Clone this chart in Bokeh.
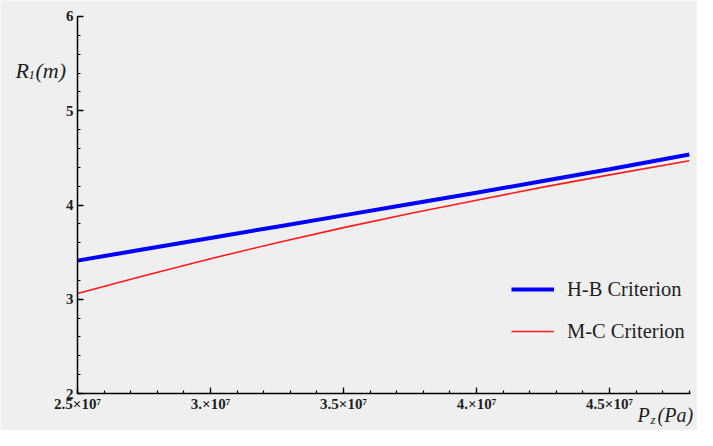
from bokeh.plotting import figure
from bokeh.models import FixedTicker, Label, Legend, LegendItem, Range1d
from bokeh.embed import file_html
from bokeh.resources import INLINE

# Data
pz = [2.5e7, 2.75e7, 3.0e7, 3.25e7, 3.5e7, 3.75e7, 4.0e7, 4.25e7, 4.5e7, 4.8e7]
hb = [3.41, 3.53, 3.65, 3.77, 3.89, 4.01, 4.13, 4.255, 4.38, 4.535]
mc = [3.06, 3.25, 3.43, 3.60, 3.76, 3.91, 4.05, 4.19, 4.32, 4.47]

x_ticks = [2.5e7, 3.0e7, 3.5e7, 4.0e7, 4.5e7]
x_tick_labels = ["2.5×10⁷", "3.×10⁷", "3.5×10⁷", "4.×10⁷", "4.5×10⁷"]
x_minor = [2.5e7 + i * 1e6 for i in range(24)]
y_ticks = [2, 3, 4, 5, 6]
y_minor = [2 + i * 0.2 for i in range(21)]

BG = "#efefef"
SERIF = "Liberation Serif"
TXT = "#1e1e1e"

p = figure(width=697, height=430, output_backend="svg", toolbar_location=None,
           x_range=Range1d(2.21053e7, 4.83083e7), y_range=Range1d(1.60743, 6.16976),
           min_border_left=0, min_border_right=0, min_border_top=0, min_border_bottom=0,
           background_fill_color=BG, border_fill_color=BG)
p.outline_line_color = None
p.xgrid.visible = False
p.ygrid.visible = False

r1 = p.line(pz, hb, line_color="#0000ff", line_width=4)
r2 = p.line(pz, mc, line_color="#ff1a1a", line_width=1.6)

for ax in (p.xaxis[0], p.yaxis[0]):
    ax.axis_line_width = 1.5
    ax.axis_line_color = "black"
    ax.major_tick_in = 6
    ax.major_tick_out = 0
    ax.minor_tick_in = 3
    ax.minor_tick_out = 0
    ax.major_tick_line_width = 1.3
    ax.minor_tick_line_width = 1.2
    ax.major_label_text_font = SERIF
    ax.major_label_text_font_style = "bold"
    ax.major_label_text_color = TXT

p.xaxis.ticker = FixedTicker(ticks=x_ticks, minor_ticks=x_minor)
p.xaxis.major_label_overrides = {t: l for t, l in zip(x_ticks, x_tick_labels)}
p.xaxis.major_label_text_font_size = "15px"
p.xaxis.major_label_standoff = 2
p.xaxis.fixed_location = 2
p.xaxis.bounds = (2.5e7, 4.805e7)
p.yaxis.ticker = FixedTicker(ticks=y_ticks, minor_ticks=y_minor)
p.yaxis.major_label_text_font_size = "15px"
p.yaxis.major_label_standoff = 4
p.yaxis.fixed_location = 2.5e7
p.yaxis.bounds = (2, 6)

# axis labels (italic serif with subscripts)
def lab(x, y, text, size):
    p.add_layout(Label(x=x, y=y, text=text, text_font=SERIF, text_font_style="italic",
                       text_font_size=size, text_color=TXT, text_align="left",
                       text_baseline="alphabetic"))

lab(2.26692e7, 5.427, "R", "22px")
lab(2.31579e7, 5.3846, "1", "13px")
lab(2.34211e7, 5.427, "(m)", "22px")

lab(4.60527e7, 1.7666, "P", "20px")
lab(4.65414e7, 1.7242, "z", "13px")
lab(4.68045e7, 1.7666, "(Pa)", "20px")

legend = Legend(items=[LegendItem(label="H-B Criterion", renderers=[r1]),
                       LegendItem(label="M-C Criterion", renderers=[r2])],
                location=(511, 87), orientation="vertical",
                glyph_width=43, glyph_height=24, label_height=24, spacing=18,
                label_standoff=13, padding=0, margin=0,
                border_line_alpha=0, background_fill_alpha=0,
                label_text_font=SERIF, label_text_font_size="20.5px",
                label_text_color=TXT)
p.add_layout(legend)

open("out.html", "w").write(file_html(p, INLINE))
